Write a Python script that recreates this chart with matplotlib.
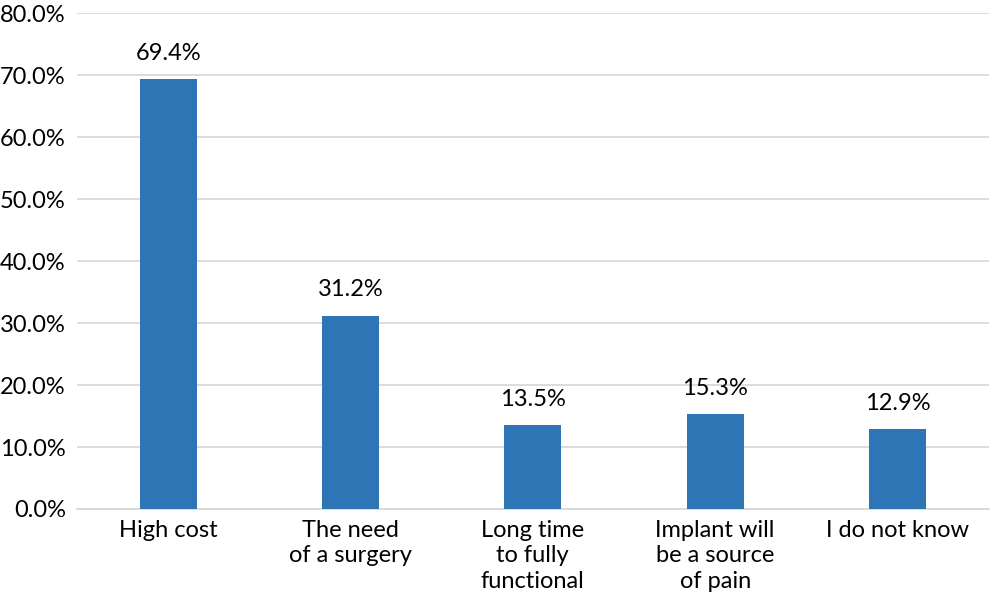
import matplotlib
matplotlib.use("Agg")
import matplotlib.pyplot as plt
from matplotlib.ticker import FuncFormatter, MultipleLocator

categories = ["High cost", "The need\nof a surgery", "Long time\nto fully\nfunctional",
              "Implant will\nbe a source\nof pain", "I do not know"]
values = [69.4, 31.2, 13.5, 15.3, 12.9]

plt.rcParams['font.family'] = ['Lato', 'DejaVu Sans']
FS = 17

fig = plt.figure(figsize=(9.92, 5.99), dpi=100)
ax = fig.add_axes([0.0776, 0.1503, 0.919, 0.8275])

x = list(range(len(categories)))
ax.bar(x, values, width=0.3125, color="#2e75b6", zorder=3)
for xi, v in zip(x, values):
    ax.annotate(f"{v:.1f}%", (xi, v), xytext=(0, 11), textcoords="offset points",
                ha="center", va="bottom", fontsize=FS, color="#000000")

ax.set_xlim(-0.5, len(categories) - 0.5)
ax.set_ylim(0, 80)
ax.yaxis.set_major_locator(MultipleLocator(10))
ax.yaxis.set_major_formatter(FuncFormatter(lambda v, p: f"{v:.1f}%"))
ax.grid(axis="y", color="#d9d9d9", linewidth=1.3, zorder=0)
ax.set_xticks(x)
ax.set_xticklabels(categories, fontsize=FS, linespacing=1.25, va="top")
ax.tick_params(axis="y", labelsize=FS, length=0, pad=8)
ax.tick_params(axis="x", length=0, pad=8)
for s in ["top", "right", "left"]:
    ax.spines[s].set_visible(False)
ax.spines["bottom"].set_color("#d9d9d9")
ax.spines["bottom"].set_linewidth(1.3)

fig.savefig("out.png", dpi=100)
